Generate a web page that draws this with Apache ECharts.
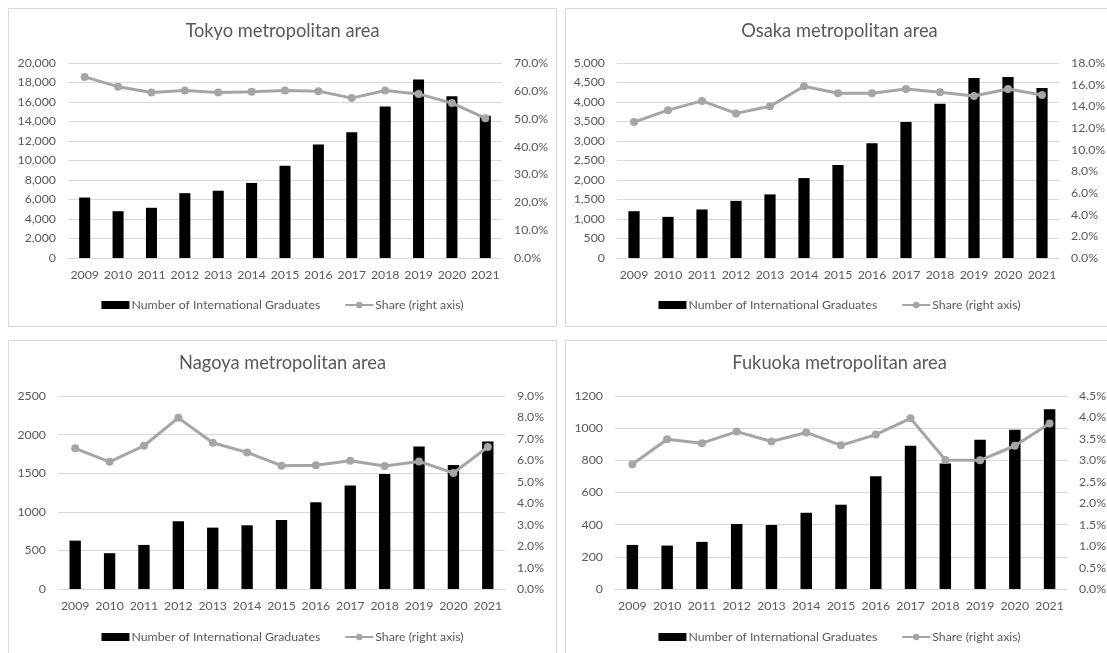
<!DOCTYPE html>
<html>
<head>
<meta charset="utf-8">
<script src="https://cdn.jsdelivr.net/npm/echarts@6/dist/echarts.min.js"></script>
<style>
  html, body { margin: 0; padding: 0; background: #ffffff; width: 1107px; height: 653px; overflow: hidden; }
  .panel { position: absolute; width: 549px; height: 330px; border: 1px solid #d9d9d9; box-sizing: border-box; background: #fff; }
</style>
</head>
<body>
<div id="tokyo" class="panel" style="left:8px; top:8px; height:319px;"></div>
<div id="osaka" class="panel" style="left:565px; top:8px; height:319px;"></div>
<div id="nagoya" class="panel" style="left:8px; top:340px;"></div>
<div id="fukuoka" class="panel" style="left:565px; top:340px;"></div>
<script>
// Graduation years shared by all four areas
const years = ['2009', '2010', '2011', '2012', '2013', '2014', '2015', '2016', '2017', '2018', '2019', '2020', '2021'];

// Number of international graduates
const tokyoGraduates   = [6200, 4800, 5150, 6650, 6900, 7700, 9450, 11650, 12900, 15550, 18300, 16600, 14600];
const osakaGraduates   = [1200, 1055, 1245, 1465, 1630, 2050, 2385, 2940, 3490, 3955, 4615, 4640, 4360];
const nagoyaGraduates  = [627, 464, 571, 876, 795, 825, 893, 1125, 1340, 1490, 1847, 1606, 1911];
const fukuokaGraduates = [274, 270, 293, 404, 398, 474, 524, 701, 891, 781, 928, 990, 1118];

// Share of the national total, in percent (right axis)
const tokyoShare   = [65.0, 61.5, 59.4, 60.1, 59.4, 59.7, 60.1, 59.9, 57.4, 60.1, 58.9, 55.6, 50.2];
const osakaShare   = [12.55, 13.65, 14.5, 13.35, 14.0, 15.85, 15.2, 15.2, 15.6, 15.3, 14.95, 15.6, 15.05];
const nagoyaShare  = [6.56, 5.93, 6.68, 7.98, 6.82, 6.37, 5.75, 5.77, 5.98, 5.74, 5.95, 5.41, 6.62];
const fukuokaShare = [2.91, 3.49, 3.40, 3.67, 3.44, 3.65, 3.35, 3.60, 3.98, 3.01, 3.00, 3.34, 3.86];

const barName = 'Number of International Graduates';
const lineName = 'Share (right axis)';

const FONT = 'Lato, "Liberation Sans", sans-serif';
const TEXT = '#595959';
const GRID = '#d9d9d9';

function buildOption(cfg) {
  return {
    animation: false,
    textStyle: { fontFamily: FONT },
    title: {
      text: cfg.title,
      left: 'center',
      top: 13,
      padding: 0,
      textStyle: { fontFamily: FONT, fontSize: 18.3, fontWeight: 'normal', color: TEXT }
    },
    legend: {
      top: 290,
      left: 'center',
      padding: 0,
      itemGap: 24,
      itemWidth: 28,
      itemHeight: 8,
      textStyle: { fontFamily: FONT, fontSize: 12.3, color: TEXT, padding: [0, 0, 0, -3] },
      data: [
        { name: barName, icon: 'rect' },
        { name: lineName }
      ]
    },
    grid: cfg.grid,
    xAxis: {
      type: 'category',
      data: years,
      axisLine: { lineStyle: { color: GRID, width: 1 } },
      axisTick: { show: false },
      axisLabel: { color: TEXT, fontFamily: FONT, fontSize: 12.3, margin: 11, interval: 0, hideOverlap: false }
    },
    yAxis: [
      {
        type: 'value',
        min: 0,
        max: cfg.leftMax,
        interval: cfg.leftStep,
        axisLine: { show: false },
        axisTick: { show: false },
        splitLine: { lineStyle: { color: GRID, width: 1 } },
        axisLabel: {
          color: TEXT, fontFamily: FONT, fontSize: 12.3, margin: 12,
          formatter: function (v) { return cfg.comma ? v.toLocaleString('en-US') : String(v); }
        }
      },
      {
        type: 'value',
        min: 0,
        max: cfg.rightMax,
        interval: cfg.rightStep,
        axisLine: { show: false },
        axisTick: { show: false },
        splitLine: { show: false },
        axisLabel: {
          color: TEXT, fontFamily: FONT, fontSize: 12.3, margin: 12,
          formatter: function (v) { return v.toFixed(1) + '%'; }
        }
      }
    ],
    series: [
      {
        name: barName,
        type: 'bar',
        data: cfg.bars,
        barWidth: '33%',
        itemStyle: { color: '#000000' }
      },
      {
        name: lineName,
        type: 'line',
        yAxisIndex: 1,
        data: cfg.share,
        symbol: 'circle',
        symbolSize: 8,
        lineStyle: { color: '#a5a5a5', width: 3 },
        itemStyle: { color: '#a5a5a5' }
      }
    ]
  };
}

const panels = [
  { id: 'tokyo', title: 'Tokyo metropolitan area', bars: tokyoGraduates, share: tokyoShare,
    leftMax: 20000, leftStep: 2000, rightMax: 70, rightStep: 10, comma: true,
    grid: { left: 59, top: 54, width: 434, height: 195 } },
  { id: 'osaka', title: 'Osaka metropolitan area', bars: osakaGraduates, share: osakaShare,
    leftMax: 5000, leftStep: 500, rightMax: 18, rightStep: 2, comma: true,
    grid: { left: 51, top: 54, width: 442, height: 195 } },
  { id: 'nagoya', title: 'Nagoya metropolitan area', bars: nagoyaGraduates, share: nagoyaShare,
    leftMax: 2500, leftStep: 500, rightMax: 9, rightStep: 1, comma: false,
    grid: { left: 49, top: 55, width: 447, height: 193 } },
  { id: 'fukuoka', title: 'Fukuoka metropolitan area', bars: fukuokaGraduates, share: fukuokaShare,
    leftMax: 1200, leftStep: 200, rightMax: 4.5, rightStep: 0.5, comma: false,
    grid: { left: 49, top: 55, width: 452, height: 193 } }
];

panels.forEach(function (p) {
  const chart = echarts.init(document.getElementById(p.id), null, { renderer: 'canvas' });
  chart.setOption(buildOption(p));
});
</script>
</body>
</html>
